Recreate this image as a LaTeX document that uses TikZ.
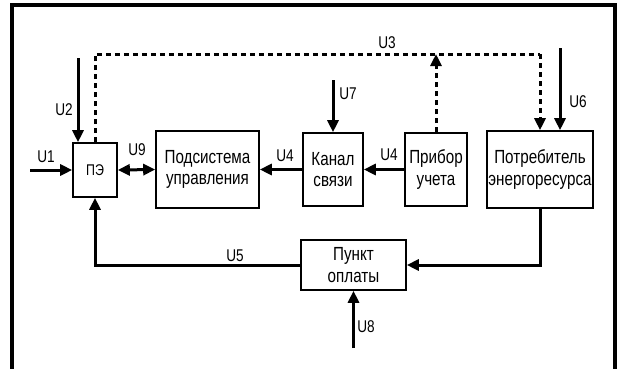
\documentclass[tikz,border=0pt]{standalone}
\usepackage{fontspec}
\setmainfont{Liberation Sans}[FakeStretch=0.8]
\usetikzlibrary{arrows.meta}
\begin{document}
\begin{tikzpicture}[x=1pt,y=-1pt,
  blk/.style={draw,line width=1.6pt,fill=white,rectangle,inner sep=0pt,align=center,font=\fontsize{19}{21.5}\selectfont},
  lbl/.style={inner sep=0pt,font=\fontsize{17}{18}\selectfont},
  sig/.style={line width=3pt,-{Triangle[length=12pt,width=11pt]}},
  dsig/.style={line width=3pt,dash pattern=on 5pt off 4pt},
  tip/.style={-{Triangle[length=12pt,width=11pt]}}
]
\clip (0,0) rectangle (617,368);
\fill[white] (0,0) rectangle (617,368);
% frame
\draw[line width=4pt] (12,380) -- (12,5) -- (615,5) -- (615,380);

% blocks
\node[blk,minimum width=44pt,minimum height=54pt,font=\fontsize{15.5}{17}\selectfont] (pe) at (95,170) {ПЭ};
\node[blk,minimum width=103pt,minimum height=77pt] (sub) at (207.5,169.5) {Подсистема\\управления};
\node[blk,minimum width=60pt,minimum height=73pt] (kan) at (333,169.5) {Канал\\связи};
\node[blk,minimum width=62pt,minimum height=73pt] (pri) at (436,169.5) {Прибор\\учета};
\node[blk,minimum width=106pt,minimum height=77pt] (pot) at (540,169.5) {Потребитель\\энергоресурса};
\node[blk,minimum width=105pt,minimum height=50pt] (pun) at (353.5,265) {Пункт\\оплаты};

% free ends
\coordinate (u1s) at (30,170);
\coordinate (u2s) at (78,58);
\coordinate (tr) at (540,54);
\coordinate (u6s) at (560,48);
\coordinate (u7s) at (333,80);
\coordinate (u8s) at (353.5,348);

% connectors
\draw[sig] (u1s) -- (pe.west);
\draw[sig] (u2s) -- (u2s |- pe.north);
\draw[dsig] (pe.north) |- (tr);
\draw[dsig,tip] (tr) -- (pot.north);
\draw[dsig,tip] (pri.north) -- (pri.north |- tr);
\draw[sig] (u6s) -- (u6s |- pot.north);
\draw[sig] (u7s) -- (kan.north);
\draw[line width=3pt,{Triangle[length=12pt,width=11pt]}-{Triangle[length=12pt,width=11pt]}] (pe.east) -- (sub.west);
\draw[sig] (kan.west) -- (sub.east);
\draw[sig] (pri.west) -- (kan.east);
\draw[sig] (pot.south) |- (pun.east);
\draw[sig] (pun.west) -| (pe.south);
\draw[sig] (u8s) -- (pun.south);

% labels
\node[lbl] (l1) at (46,157) {U1};
\node[lbl] (l2) at (64,110) {U2};
\node[lbl] (l3) at (387,43) {U3};
\node[lbl] (l9) at (137,150) {U9};
\node[lbl] (l4a) at (285,156) {U4};
\node[lbl] (l4b) at (389,155) {U4};
\node[lbl] (l7) at (348,94) {U7};
\node[lbl] (l6) at (578,102) {U6};
\node[lbl] (l5) at (235,256) {U5};
\node[lbl] (l8) at (366,327) {U8};
\end{tikzpicture}
\end{document}
